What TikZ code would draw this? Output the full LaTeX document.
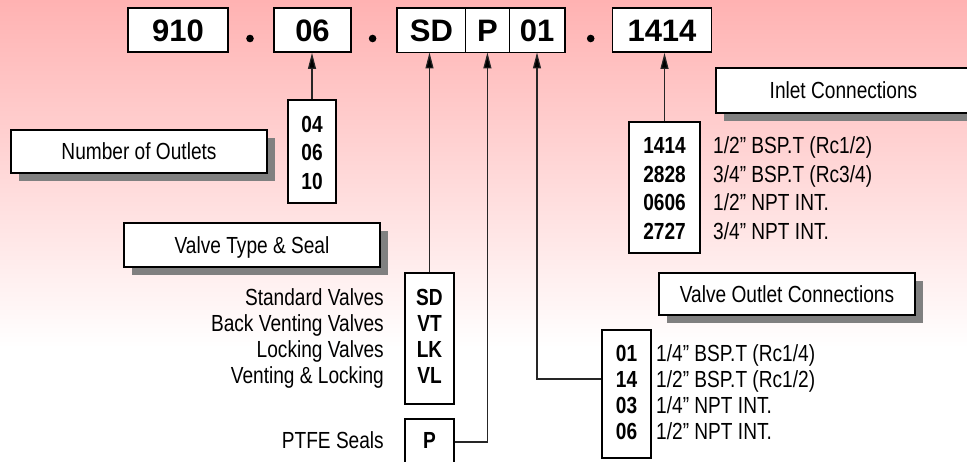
\documentclass[tikz,border=0pt]{standalone}
\usepackage{fontspec}
\setmainfont{Liberation Sans}[FakeStretch=0.82]
\newfontfamily\topfont{Liberation Sans}
\usetikzlibrary{shadows,arrows.meta}
\definecolor{pinktop}{RGB}{255,178,178}
\definecolor{shadowgray}{RGB}{128,128,128}
\begin{document}
\begin{tikzpicture}[x=1pt,y=-1pt,
  txt/.style={inner sep=0pt, font=\fontsize{23.3}{26}\selectfont, text height=16.7pt, text depth=0pt},
  btxt/.style={inner sep=0pt, font=\fontsize{23.3}{26}\selectfont\bfseries, text height=16.7pt, text depth=0pt},
  topbox/.style={draw=black, line width=1.8pt, fill=white, inner sep=0pt, minimum height=44pt,
     font=\topfont\fontsize{31}{36}\selectfont\bfseries, text height=22pt, text depth=0pt},
  segbox/.style={topbox, line width=0.9pt},
  listbox/.style={draw=black, line width=1.8pt, fill=white, inner sep=0pt},
  labelbox/.style={draw=black, line width=1.8pt, fill=white, inner sep=0pt,
     minimum width=256pt, font=\fontsize{23.3}{26}\selectfont, text height=16.7pt, text depth=0pt,
     drop shadow={shadow xshift=8pt, shadow yshift=-8pt, fill=shadowgray, opacity=1}},
  dotnode/.style={circle, fill=black, inner sep=0pt, minimum size=7.6pt},
  conn/.style={draw=black!85, line width=1.2pt},
  arr/.style={conn, -{Triangle[length=16pt,width=8pt,fill=black]}},
]
\useasboundingbox (0,0) rectangle (967,461);
\fill[top color=pinktop, bottom color=white] (0,0) rectangle (967,348);
\fill[white] (0,348) rectangle (967,461);

% top code boxes
\node[topbox, minimum width=100pt] (b910) at (178,30) {910};
\node[dotnode] (d1) at (250,38.5) {};
\node[topbox, minimum width=77pt] (b06) at (312.5,30) {06};
\node[dotnode] (d2) at (372.6,38.5) {};
\node[segbox, minimum width=68pt] (bSD) at (431.5,30) {SD};
\node[segbox, minimum width=43.6pt] (bP) at (487.4,30) {P};
\node[segbox, minimum width=55.5pt] (b01) at (537,30) {01};
\draw[line width=1.8pt] (bSD.north west) rectangle (b01.south east);
\node[dotnode] (d3) at (590.7,38.5) {};
\node[topbox, minimum width=99pt] (b1414) at (662,30) {1414};

% label boxes
\node[labelbox] (lOut) at (139,151.5) [minimum height=43pt] {Number of Outlets};
\node[labelbox] (lValve) at (252,245) [minimum height=44pt] {Valve Type \& Seal};
\node[labelbox, minimum width=255pt] (lInlet) at (843.5,90.5) [minimum height=45pt] {Inlet Connections};
\node[labelbox] (lVOut) at (787,294) [minimum height=42pt] {Valve Outlet Connections};

% outlets list
\node[listbox, minimum width=48pt, minimum height=103pt] (lstOut) at (312,151.5) {};
\node[btxt] (o1) at (312,124) {04};
\node[btxt] (o2) at (312,152.5) {06};
\node[btxt] (o3) at (312,181) {10};
\draw[arr] (lstOut.north) -- (lstOut.north |- b06.south);

% valve type list
\node[listbox, minimum width=49pt, minimum height=131pt] (lstSD) at (429.5,338.5) {};
\node[btxt] (s1) at (429.5,297) {SD};
\node[btxt] (s2) at (429.5,323) {VT};
\node[btxt] (s3) at (429.5,349) {LK};
\node[btxt] (s4) at (429.5,375) {VL};
\node[txt, anchor=east] (t1) at (384,297) {Standard Valves};
\node[txt, anchor=east] (t2) at (384,323) {Back Venting Valves};
\node[txt, anchor=east] (t3) at (384,349) {Locking Valves};
\node[txt, anchor=east] (t4) at (384,375) {Venting \& Locking};
\draw[arr] (lstSD.north) -- (lstSD.north |- bSD.south);

% seal
\node[listbox, minimum width=49pt, minimum height=46pt] (lstP) at (429.5,442) {};
\node[btxt] (p1) at (429.5,440) {P};
\node[txt, anchor=east] (t5) at (384,440) {PTFE Seals};
\draw[arr] (lstP.east) -| (bP.south);

% inlet list
\node[listbox, minimum width=71pt, minimum height=131pt] (lst1414) at (664.5,187.5) {};
\node[btxt] (i1) at (664.5,145) {1414};
\node[btxt] (i2) at (664.5,174) {2828};
\node[btxt] (i3) at (664.5,202.5) {0606};
\node[btxt] (i4) at (664.5,231) {2727};
\node[txt, anchor=west] (it1) at (713,145) {1/2” BSP.T (Rc1/2)};
\node[txt, anchor=west] (it2) at (713,174) {3/4” BSP.T (Rc3/4)};
\node[txt, anchor=west] (it3) at (713,202.5) {1/2” NPT INT.};
\node[txt, anchor=west] (it4) at (713,231) {3/4” NPT INT.};
\draw[arr] (lst1414.north) -- (lst1414.north |- b1414.south);

% outlet connection list
\node[listbox, minimum width=49pt, minimum height=128pt] (lst01) at (626.5,394) {};
\node[btxt] (c1) at (626.5,353) {01};
\node[btxt] (c2) at (626.5,379) {14};
\node[btxt] (c3) at (626.5,405) {03};
\node[btxt] (c4) at (626.5,431) {06};
\node[txt, anchor=west] (ct1) at (656,353) {1/4” BSP.T (Rc1/4)};
\node[txt, anchor=west] (ct2) at (656,379) {1/2” BSP.T (Rc1/2)};
\node[txt, anchor=west] (ct3) at (656,405) {1/4” NPT INT.};
\node[txt, anchor=west] (ct4) at (656,431) {1/2” NPT INT.};
\draw[arr] (lst01.west |- c2.center) -| (b01.south);
\end{tikzpicture}
\end{document}
